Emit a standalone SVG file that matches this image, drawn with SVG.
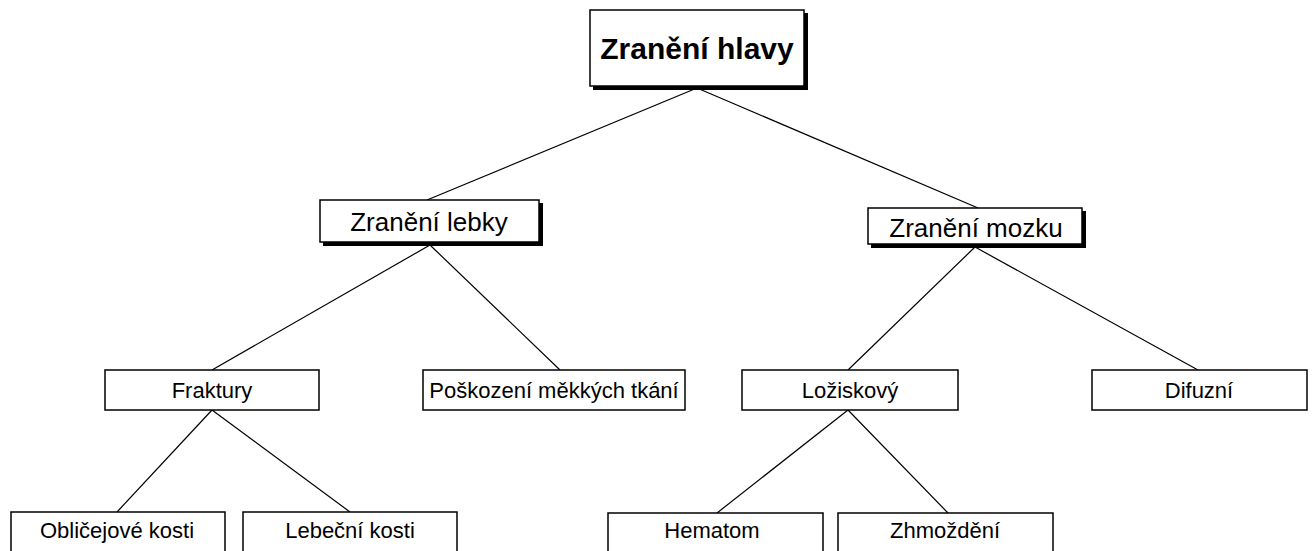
<svg xmlns="http://www.w3.org/2000/svg" width="1312" height="551" viewBox="0 0 1312 551">
<style>
.box{fill:#fff;stroke:#000;stroke-width:1.5}
.sh{fill:#000}
.t{font-family:"Liberation Sans",Arial,sans-serif;text-anchor:middle;fill:#000}
.t1{font-size:30px;font-weight:bold}
.t2{font-size:26px}
.t3{font-size:22px}
.c line{stroke:#000;stroke-width:1.2}
</style>
<rect width="1312" height="551" fill="#fff"/>
<g class="c" id="connectors">
<line x1="697" y1="88" x2="427" y2="200"/>
<line x1="697" y1="88" x2="978" y2="208"/>
<line x1="430" y1="245" x2="212" y2="370"/>
<line x1="430" y1="245" x2="560" y2="370"/>
<line x1="975" y1="247" x2="848" y2="370"/>
<line x1="975" y1="247" x2="1198" y2="370"/>
<line x1="212" y1="410" x2="117" y2="512"/>
<line x1="212" y1="410" x2="350" y2="512"/>
<line x1="848" y1="410" x2="717" y2="513"/>
<line x1="848" y1="410" x2="948" y2="513"/>
</g>
<g id="n-hlavy">
<rect class="sh" x="593" y="13" width="215" height="77"/>
<rect class="box" x="590" y="10" width="214" height="76"/>
<text class="t t1" x="697" y="59">Zranění hlavy</text>
</g>
<g id="n-lebky">
<rect class="sh" x="323" y="203" width="220" height="43"/>
<rect class="box" x="320" y="200" width="219" height="42"/>
<text class="t t2" x="429" y="231">Zranění lebky</text>
</g>
<g id="n-mozku">
<rect class="sh" x="871" y="211" width="215" height="37"/>
<rect class="box" x="868" y="208" width="214" height="36"/>
<text class="t t2" x="976" y="237">Zranění mozku</text>
</g>
<g id="n-fraktury">
<rect class="box" x="105" y="370" width="214" height="40"/>
<text class="t t3" x="212" y="398">Fraktury</text>
</g>
<g id="n-poskozeni">
<rect class="box" x="423" y="370" width="262" height="40"/>
<text class="t t3" x="554" y="398">Poškození měkkých tkání</text>
</g>
<g id="n-loziskovy">
<rect class="box" x="742" y="370" width="216" height="40"/>
<text class="t t3" x="850" y="398">Ložiskový</text>
</g>
<g id="n-difuzni">
<rect class="box" x="1092" y="370" width="215" height="40"/>
<text class="t t3" x="1199" y="398">Difuzní</text>
</g>
<g id="n-oblicejove">
<rect class="box" x="11" y="512" width="214" height="45"/>
<text class="t t3" x="117" y="538">Obličejové kosti</text>
</g>
<g id="n-lebecni">
<rect class="box" x="243" y="512" width="214" height="45"/>
<text class="t t3" x="350" y="538">Lebeční kosti</text>
</g>
<g id="n-hematom">
<rect class="box" x="608" y="513" width="215" height="45"/>
<text class="t t3" x="712" y="538">Hematom</text>
</g>
<g id="n-zhmozdeni">
<rect class="box" x="838" y="513" width="215" height="45"/>
<text class="t t3" x="945" y="538">Zhmoždění</text>
</g>
</svg>
